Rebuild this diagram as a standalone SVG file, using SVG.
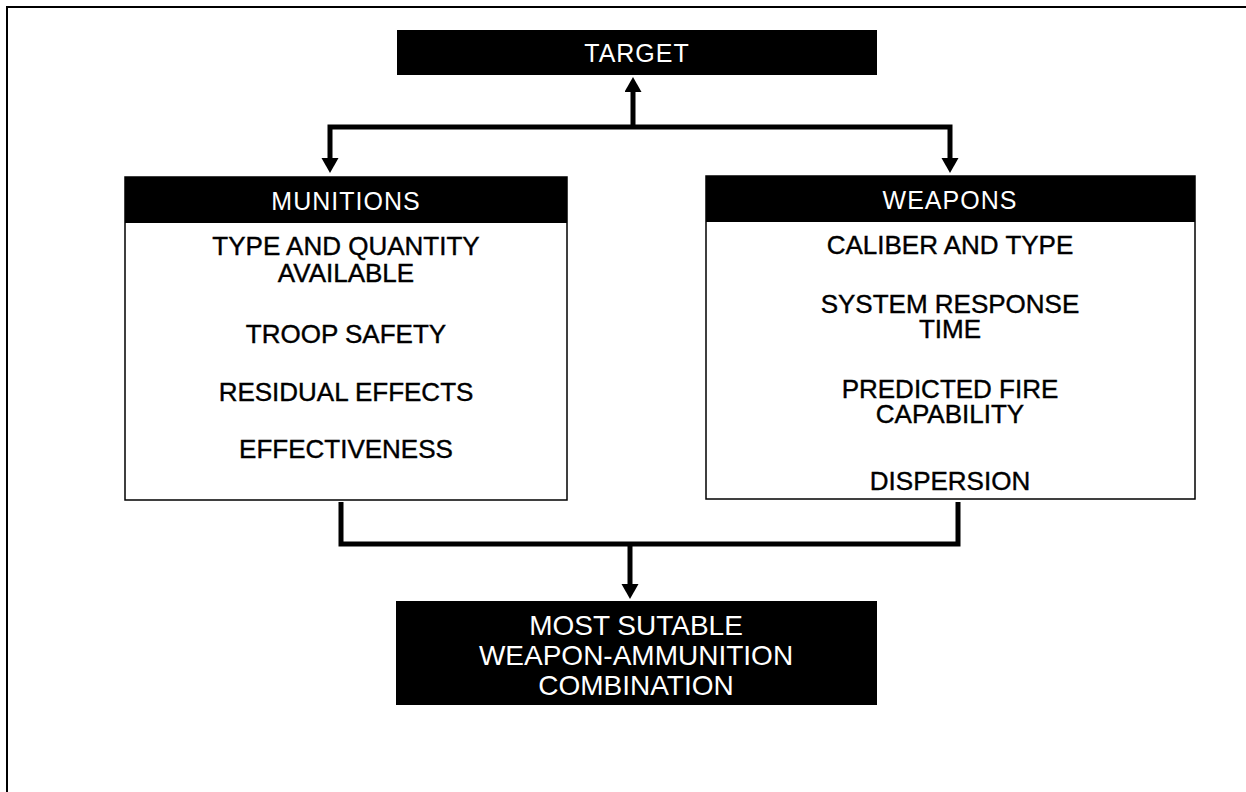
<svg xmlns="http://www.w3.org/2000/svg" width="1246" height="792" viewBox="0 0 1246 792">
<style>
  text { font-family: "Liberation Sans", Arial, sans-serif; text-anchor: middle; }
  .hdr { fill: #000; }
  .box { fill: #fff; stroke: #000; stroke-width: 1.5; }
  .wt { fill: #fff; font-size: 25px; letter-spacing: 1px; }
  .bt { fill: #000; font-size: 26px; stroke: #000; stroke-width: 0.4; }
  .ct { fill: #fff; font-size: 28px; }
  .conn { fill: none; stroke: #000; stroke-width: 5; stroke-linejoin: miter; }
</style>
<defs>
  <marker id="arr" markerUnits="userSpaceOnUse" markerWidth="16" markerHeight="18" refX="1" refY="8.5" orient="auto-start-reverse">
    <path d="M0,0 L15,8.5 L0,17 Z" fill="#000"/>
  </marker>
</defs>
<rect width="1246" height="792" fill="#fff"/>
<path d="M7,792 V7 H1246" fill="none" stroke="#000" stroke-width="2"/>

<g id="target">
  <rect class="hdr" x="397" y="30" width="480" height="45"/>
  <text class="wt" x="637" y="62">TARGET</text>
</g>

<g id="munitions">
  <rect class="box" x="125" y="177" width="442" height="323"/>
  <rect class="hdr" x="125" y="177" width="442" height="46"/>
  <text class="wt" x="346" y="210">MUNITIONS</text>
  <text class="bt" x="346" y="255">TYPE AND QUANTITY<tspan x="346" dy="27">AVAILABLE</tspan></text>
  <text class="bt" x="346" y="343">TROOP SAFETY</text>
  <text class="bt" x="346" y="401">RESIDUAL EFFECTS</text>
  <text class="bt" x="346" y="458">EFFECTIVENESS</text>
</g>

<g id="weapons">
  <rect class="box" x="706" y="176" width="489" height="323"/>
  <rect class="hdr" x="706" y="176" width="489" height="46"/>
  <text class="wt" x="950" y="209">WEAPONS</text>
  <text class="bt" x="950" y="254">CALIBER AND TYPE</text>
  <text class="bt" x="950" y="313">SYSTEM RESPONSE<tspan x="950" dy="25">TIME</tspan></text>
  <text class="bt" x="950" y="398">PREDICTED FIRE<tspan x="950" dy="25">CAPABILITY</tspan></text>
  <text class="bt" x="950" y="490">DISPERSION</text>
</g>

<g id="result">
  <rect class="hdr" x="396" y="601" width="481" height="104"/>
  <text class="ct" x="636" y="635">MOST SUTABLE<tspan x="636" dy="30">WEAPON-AMMUNITION</tspan><tspan x="636" dy="30">COMBINATION</tspan></text>
</g>

<g id="connectors">
  <path class="conn" d="M633,127 V91" marker-end="url(#arr)"/>
  <path class="conn" d="M330,159 V127 H950 V159" marker-start="url(#arr)" marker-end="url(#arr)"/>
  <path class="conn" d="M341,502 V544 H958 V502"/>
  <path class="conn" d="M630,544 V585" marker-end="url(#arr)"/>
</g>
</svg>
